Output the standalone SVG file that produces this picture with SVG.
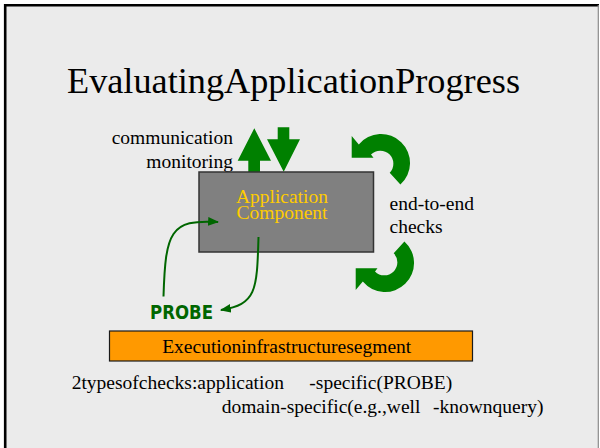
<svg xmlns="http://www.w3.org/2000/svg" width="600" height="448" viewBox="0 0 600 448">
  <defs>
    <style>
      text { font-family: "Liberation Serif", "Times New Roman", serif; }
      .lbl { font-size: 19.5px; fill: #000; }
      .bigarrow { fill: #008000; }
      .link { fill: none; stroke: #006600; stroke-width: 2; }
    </style>
    <marker id="head" viewBox="0 0 10 8" refX="9" refY="4" markerWidth="11" markerHeight="9" markerUnits="userSpaceOnUse" orient="auto">
      <path d="M0,0 L10,4 L0,8 z" fill="#006600"/>
    </marker>
    <!-- thick circular arrow, reused for the lower loop -->
    <path id="loop" d="M400.4,184.6 A29,29 0 1 0 358.8,144.4 L351.7,136 L351.7,157.7 L373.5,157.7 L371,154.6 A13,13 0 1 1 389.7,172.7 Z"/>
  </defs>

  <!-- slide background and frame -->
  <rect x="0" y="0" width="600" height="448" fill="#ffffff"/>
  <rect x="5" y="5" width="593" height="450" fill="#ebebeb"/>
  <line x1="5.2" y1="4" x2="5.2" y2="448" stroke="#000" stroke-width="2.6"/>
  <line x1="4" y1="5.2" x2="599" y2="5.2" stroke="#000" stroke-width="2.6"/>
  <line x1="598.3" y1="5" x2="598.3" y2="448" stroke="#8a8a8a" stroke-width="1.2"/>

  <!-- title -->
  <text x="67" y="93" font-size="36" fill="#000" textLength="453" lengthAdjust="spacingAndGlyphs">EvaluatingApplicationProgress</text>

  <!-- communication monitoring arrows -->
  <g id="comm-arrows">
    <polygon class="bigarrow" points="254.3,128.3 271,160.7 260,160.7 260,172 248.3,172 248.3,160.7 237.7,160.7"/>
    <polygon class="bigarrow" points="277.7,127.3 289.3,127.3 289.3,139.3 300,139.3 283.7,171.7 267,139.3 277.7,139.3"/>
    <text class="lbl" x="233" y="143.5" text-anchor="end">communication</text>
    <text class="lbl" x="233" y="167.5" text-anchor="end">monitoring</text>
  </g>

  <!-- application component -->
  <g id="app-component">
    <rect x="199" y="172" width="174.5" height="80" fill="#808080" stroke="#333" stroke-width="1.5"/>
    <text class="lbl" x="282" y="202.5" text-anchor="middle" style="fill:#ffcc00">Application</text>
    <text class="lbl" x="282" y="218.5" text-anchor="middle" style="fill:#ffcc00">Component</text>
  </g>

  <!-- end-to-end checks -->
  <g id="end-to-end">
    <use href="#loop" class="bigarrow"/>
    <use href="#loop" class="bigarrow" transform="translate(4,426) scale(1,-1)"/>
    <text class="lbl" x="389.5" y="210">end-to-end</text>
    <text class="lbl" x="389.5" y="233">checks</text>
  </g>

  <!-- probe -->
  <g id="probe">
    <text x="150" y="318.5" style="font-family:'DejaVu Sans',sans-serif" font-weight="bold" font-size="19" fill="#006600" textLength="63" lengthAdjust="spacingAndGlyphs">PROBE</text>
  </g>

  <!-- probe connectors -->
  <g id="connectors">
    <path class="link" d="M163.5,296.5 C165.5,232 170,219 218,222" marker-end="url(#head)"/>
    <path class="link" d="M258.5,237 C257,292 256,304 221,310" marker-end="url(#head)"/>
  </g>

  <!-- execution infrastructure segment -->
  <g id="infra">
    <rect x="109.5" y="331" width="363" height="30" fill="#ff9900" stroke="#1a1a1a" stroke-width="1.2"/>
    <text class="lbl" x="286.7" y="353.3" text-anchor="middle">Executioninfrastructuresegment</text>
  </g>

  <!-- notes -->
  <g id="notes">
    <text class="lbl" x="71.7" y="389">2typesofchecks:application</text>
    <text class="lbl" x="309.3" y="389">-specific(PROBE)</text>
    <text class="lbl" x="221.7" y="412.5">domain-specific(e.g.,well</text>
    <text class="lbl" x="433" y="412.5">-knownquery)</text>
  </g>
</svg>
